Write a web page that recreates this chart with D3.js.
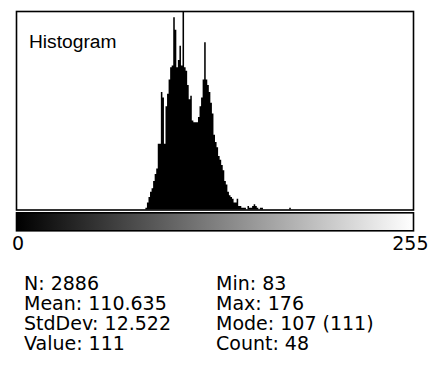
<!DOCTYPE html>
<html>
<head>
<meta charset="utf-8">
<script src="https://cdn.jsdelivr.net/npm/d3@7"></script>
<style>
  html, body { margin: 0; padding: 0; background: #fff; }
  svg { display: block; }
</style>
</head>
<body>
<svg id="chart" width="438" height="365"></svg>
<script>
// Pixel-value histogram: first bin and counts per grey level
const firstBin = 83;
const counts = [
  1, 4, 7, 10, 12, 16, 20, 23,          // 83-90
  37, 37, 66, 63, 37,                   // 91-95
  58, 65, 73, 80, 81,                   // 96-100
  108, 101, 80, 84, 92,                 // 101-105
  81, 111, 80, 78, 70,                  // 106-110
  62, 64, 50, 49, 49,                   // 111-115
  49, 52, 58, 63, 73,                   // 116-120
  94, 73, 70, 66, 60,                   // 121-125
  54, 42, 38, 35, 30,                   // 126-130
  28, 25, 22, 16, 14,                   // 131-135
  10, 8, 7, 6, 4,                       // 136-140
  4, 6, 2, 2, 1, 1, 1,                  // 141-147
  0, 2, 1, 1, 2, 3, 2, 1, 0, 1, 1,      // 148-158
  0, 0, 0, 0, 0, 0, 0, 0, 0, 0, 0, 0, 0, 0, 0, 0, 0, // 159-175
  1                                     // 176
];
const rangeLabels = ["0", "255"];
const statsLeft = ["N: 2886", "Mean: 110.635", "StdDev: 12.522", "Value: 111"];
const statsRight = ["Min: 83", "Max: 176", "Mode: 107 (111)", "Count: 48"];
const title = "Histogram";

const svg = d3.select("#chart");

const x = d3.scaleLinear().domain([0, 256]).range([17, 413]);
const y = d3.scaleLinear().domain([0, d3.max(counts)]).range([209.5, 12]);

const bins = counts.map((c, i) => ({ bin: firstBin + i, count: c }));
// extra closing point so the last step has width
bins.push({ bin: firstBin + counts.length, count: 0 });

const area = d3.area()
  .x(d => x(d.bin))
  .y0(y(0))
  .y1(d => y(d.count))
  .curve(d3.curveStepAfter);

svg.append("path")
  .datum(bins)
  .attr("d", area)
  .attr("fill", "#000");

// plot frame
svg.append("rect")
  .attr("x", 16.5).attr("y", 11.5)
  .attr("width", 397).attr("height", 198.5)
  .attr("fill", "none")
  .attr("stroke", "#000")
  .attr("stroke-width", 1.6);

// grey-level ramp
const defs = svg.append("defs");
const grad = defs.append("linearGradient").attr("id", "ramp")
  .attr("x1", "0%").attr("x2", "100%").attr("y1", "0%").attr("y2", "0%");
grad.append("stop").attr("offset", "0%").attr("stop-color", "#000");
grad.append("stop").attr("offset", "100%").attr("stop-color", "#fff");

svg.append("rect")
  .attr("x", 16.5).attr("y", 212.8)
  .attr("width", 397).attr("height", 18)
  .attr("fill", "url(#ramp)")
  .attr("stroke", "#000")
  .attr("stroke-width", 1.6);

const fontFam = "'DejaVu Sans', Verdana, sans-serif";

svg.append("text")
  .attr("x", 12).attr("y", 250)
  .attr("font-family", fontFam).attr("font-size", 19)
  .attr("fill", "#000")
  .text(rangeLabels[0]);
svg.append("text")
  .attr("x", 428.5).attr("y", 250)
  .attr("text-anchor", "end")
  .attr("font-family", fontFam).attr("font-size", 19)
  .attr("fill", "#000")
  .text(rangeLabels[1]);

svg.append("text")
  .attr("x", 29).attr("y", 48)
  .attr("font-family", "'Liberation Sans', Arial, sans-serif")
  .attr("font-size", 19.2)
  .attr("fill", "#000")
  .text(title);

const lineY = d3.scaleLinear().domain([0, 1]).range([290, 310]);

svg.selectAll("text.statL").data(statsLeft).join("text")
  .attr("class", "statL")
  .attr("x", 24).attr("y", (d, i) => lineY(i))
  .attr("font-family", fontFam).attr("font-size", 19)
  .attr("fill", "#000")
  .text(d => d);

svg.selectAll("text.statR").data(statsRight).join("text")
  .attr("class", "statR")
  .attr("x", 216).attr("y", (d, i) => lineY(i))
  .attr("font-family", fontFam).attr("font-size", 19)
  .attr("fill", "#000")
  .text(d => d);
</script>
</body>
</html>
